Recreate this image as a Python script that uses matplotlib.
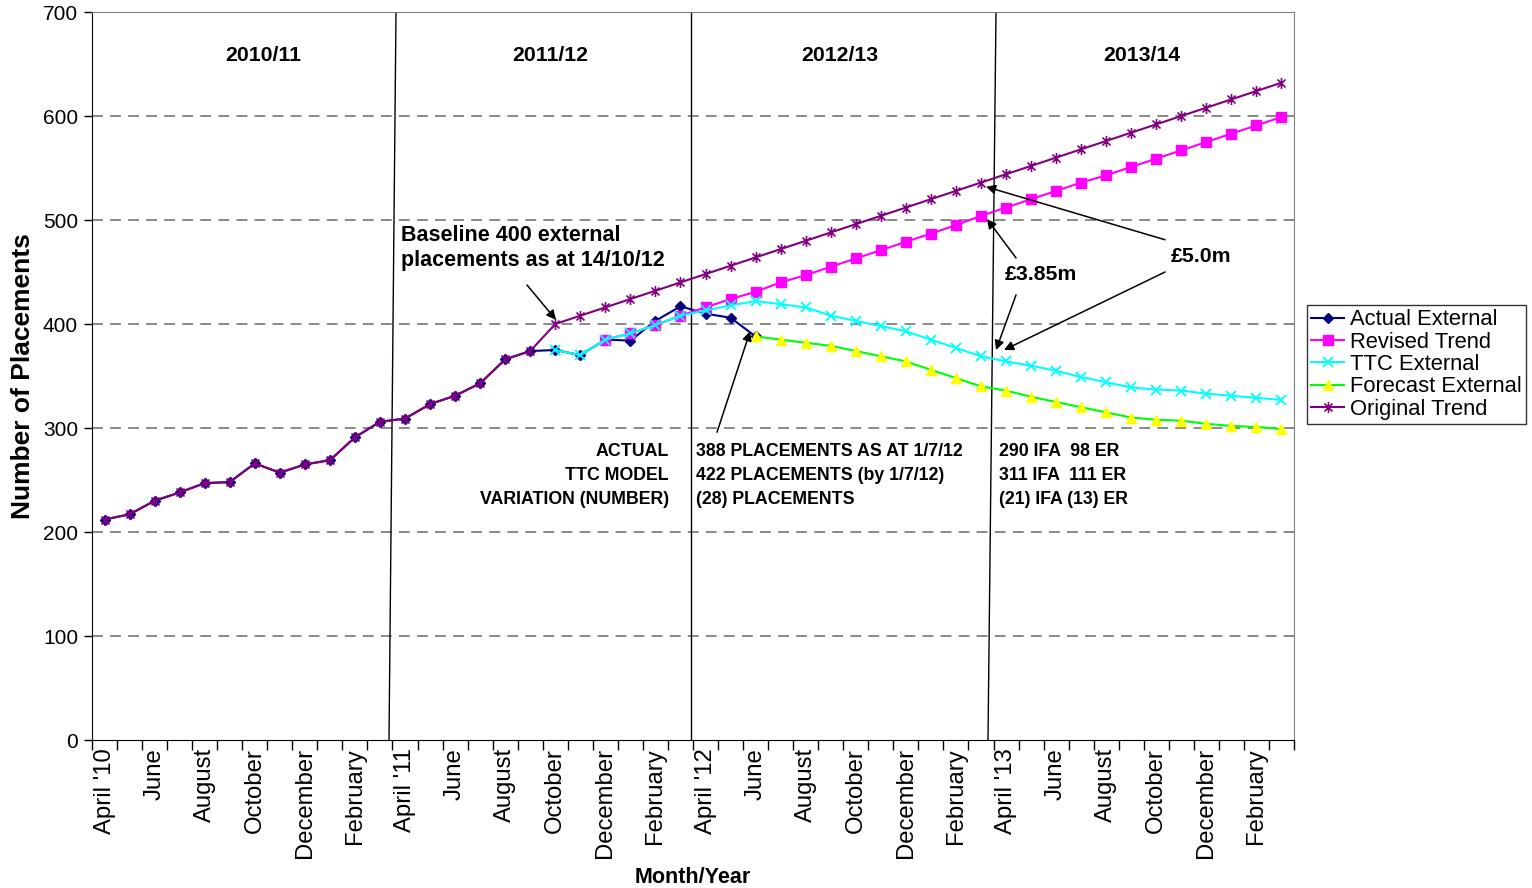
import numpy as np
import matplotlib
matplotlib.use("Agg")
import matplotlib.pyplot as plt
from matplotlib.path import Path

plt.rcParams['font.family'] = ['Liberation Sans', 'DejaVu Sans']

nan = np.nan
months = ["April '10", "May", "June", "July", "August", "September", "October", "November",
          "December", "January", "February", "March",
          "April '11", "May", "June", "July", "August", "September", "October", "November",
          "December", "January", "February", "March",
          "April '12", "May", "June", "July", "August", "September", "October", "November",
          "December", "January", "February", "March",
          "April '13", "May", "June", "July", "August", "September", "October", "November",
          "December", "January", "February", "March"]

actual = [212, 217, 230, 238, 247, 248, 266, 257, 265, 269, 291, 306,
          309, 323, 331, 343, 366, 374, 375, 370, 385, 384, 403, 417,
          410, 406, 388] + [nan] * 21
revised = [nan] * 20 + [385, 391, 399, 408,
                        416, 424, 431, 440, 447, 455, 463, 471, 479, 487, 495, 504,
                        512, 520, 528, 536, 543, 551, 559, 567, 575, 583, 591, 599]
ttc = [nan] * 18 + [375, 370, 385, 391, 399, 408,
                    413, 418, 422, 419, 416, 408, 403, 398, 393, 385, 377, 369,
                    364, 360, 355, 349, 344, 339, 337, 336, 333, 331, 329, 327]
forecast = [nan] * 26 + [388, 385, 382, 379, 374, 369, 364, 356, 348, 340,
                         336, 330, 325, 320, 315, 310, 308, 307, 304, 302, 301, 299]
original = [212, 217, 230, 238, 247, 248, 266, 257, 265, 269, 291, 306,
            309, 323, 331, 343, 366, 374, 400, 408, 416, 424, 432, 440,
            448, 456, 464, 472, 480, 488, 496, 504, 512, 520, 528, 536,
            544, 552, 560, 568, 576, 584, 592, 600, 608, 616, 624, 632]

year_labels = ["2010/11", "2011/12", "2012/13", "2013/14"]

fig = plt.figure(figsize=(15.32, 8.88), dpi=100)
ax = fig.add_axes([92/1532, 148/888, (1294-92)/1532, (740-12)/888])

x = np.arange(len(months))

star = Path([(0, -1), (0, 1), (-0.72, -0.72), (0.72, 0.72), (-0.72, 0.72), (0.72, -0.72)],
            [Path.MOVETO, Path.LINETO] * 3)

ax.plot(x, actual, color='#000080', lw=1.5, marker='D', ms=5, mfc='#000080', mec='#000080',
        label='Actual External', zorder=3)
ax.plot(x, revised, color='#FF00FF', lw=1.5, marker='s', ms=6.5, mfc='#FF00FF', mec='#FF00FF',
        label='Revised Trend', zorder=4)
ax.plot(x, ttc, color='#00FFFF', lw=1.5, marker='x', ms=7, mew=1.3, mec='#00FFFF',
        label='TTC External', zorder=5)
ax.plot(x, forecast, color='#00FF00', lw=1.5, marker='^', ms=7.5, mfc='#FFFF00', mec='#FFFF00',
        label='Forecast External', zorder=6)
ax.plot(x, original, color='#800080', lw=1.5, marker=star, ms=8, mew=1.2, mec='#800080',
        mfc='#800080', label='Original Trend', zorder=7)

ax.set_xlim(-0.5, len(months) - 0.5)
ax.set_ylim(0, 700)
ax.set_yticks(np.arange(0, 701, 100))
ax.tick_params(axis='y', labelsize=15, length=6, width=1, direction='out', pad=4)
for yv in range(100, 700, 100):
    ax.axhline(yv, color='#808080', lw=1.3, ls=(0, (6, 4)), zorder=1)

ax.set_xticks(np.arange(-0.5, len(months), 1))
ax.set_xticklabels([])
ax.tick_params(axis='x', which='major', length=7, width=1, direction='out')
ax.set_xticks(x[::2], minor=True)
ax.set_xticklabels(months[::2], minor=True, rotation=90, fontsize=17.2, va='top', ha='center')
ax.tick_params(axis='x', which='minor', length=0, pad=6)

for s in ['left', 'bottom']:
    ax.spines[s].set_color('black')
for s in ['top', 'right']:
    ax.spines[s].set_color('#808080')

ax.set_ylabel('Number of Placements', fontsize=19, fontweight='bold', labelpad=6)
ax.set_xlabel('Month/Year', fontsize=15.5, fontweight='bold', labelpad=6)

# year dividers
for (xt, xb) in [(11.64, 11.36), (23.42, 23.42), (35.60, 35.28)]:
    ax.plot([xt, xb], [700, 0], color='black', lw=1, zorder=2)

for lab, xp in zip(year_labels, [6.33, 17.79, 29.37, 41.43]):
    ax.text(xp, 658, lab, ha='center', va='center', fontsize=15.3, fontweight='bold')

ax.text(11.84, 495, 'Baseline 400 external\nplacements as at 14/10/12', ha='left', va='top',
        fontsize=15.5, fontweight='bold', linespacing=1.25)

arrowp = dict(arrowstyle='-|>', color='black', lw=1.1, mutation_scale=14, shrinkA=0, shrinkB=0)
ax.annotate('', xy=(18.03, 404), xytext=(16.87, 437.5), arrowprops=arrowp, zorder=8)
ax.annotate('', xy=(25.78, 393), xytext=(24.46, 296), arrowprops=arrowp, zorder=8)

ax.text(37.4, 448, '£3.85m', ha='center', va='center', fontsize=15.3, fontweight='bold')
ax.annotate('', xy=(35.24, 501), xytext=(36.4, 463.5), arrowprops=arrowp, zorder=8)
ax.annotate('', xy=(35.6, 375), xytext=(36.4, 428), arrowprops=arrowp, zorder=8)

ax.text(43.79, 465, '£5.0m', ha='center', va='center', fontsize=15.3, fontweight='bold')
ax.annotate('', xy=(35.2, 532), xytext=(42.35, 481), arrowprops=arrowp, zorder=8)
ax.annotate('', xy=(35.92, 375), xytext=(42.35, 450), arrowprops=arrowp, zorder=8)

ax.text(22.54, 286, 'ACTUAL\nTTC MODEL\nVARIATION (NUMBER)', ha='right', va='top',
        fontsize=12.8, fontweight='bold', linespacing=1.55, multialignment='right')
ax.text(23.62, 286, '388 PLACEMENTS AS AT 1/7/12\n422 PLACEMENTS (by 1/7/12)\n(28) PLACEMENTS',
        ha='left', va='top', fontsize=12.8, fontweight='bold', linespacing=1.55)
ax.text(35.72, 286, '290 IFA  98 ER\n311 IFA  111 ER\n(21) IFA (13) ER',
        ha='left', va='top', fontsize=12.8, fontweight='bold', linespacing=1.55)

leg = fig.legend(loc='upper left', bbox_to_anchor=(1307/1532, (888-305)/888), fontsize=15.8,
                 frameon=True, fancybox=False, edgecolor='black', handlelength=1.5,
                 handletextpad=0.25, labelspacing=0.06, borderpad=0.2, borderaxespad=0)
leg.get_frame().set_linewidth(1)

fig.savefig('out.png', dpi=100)
